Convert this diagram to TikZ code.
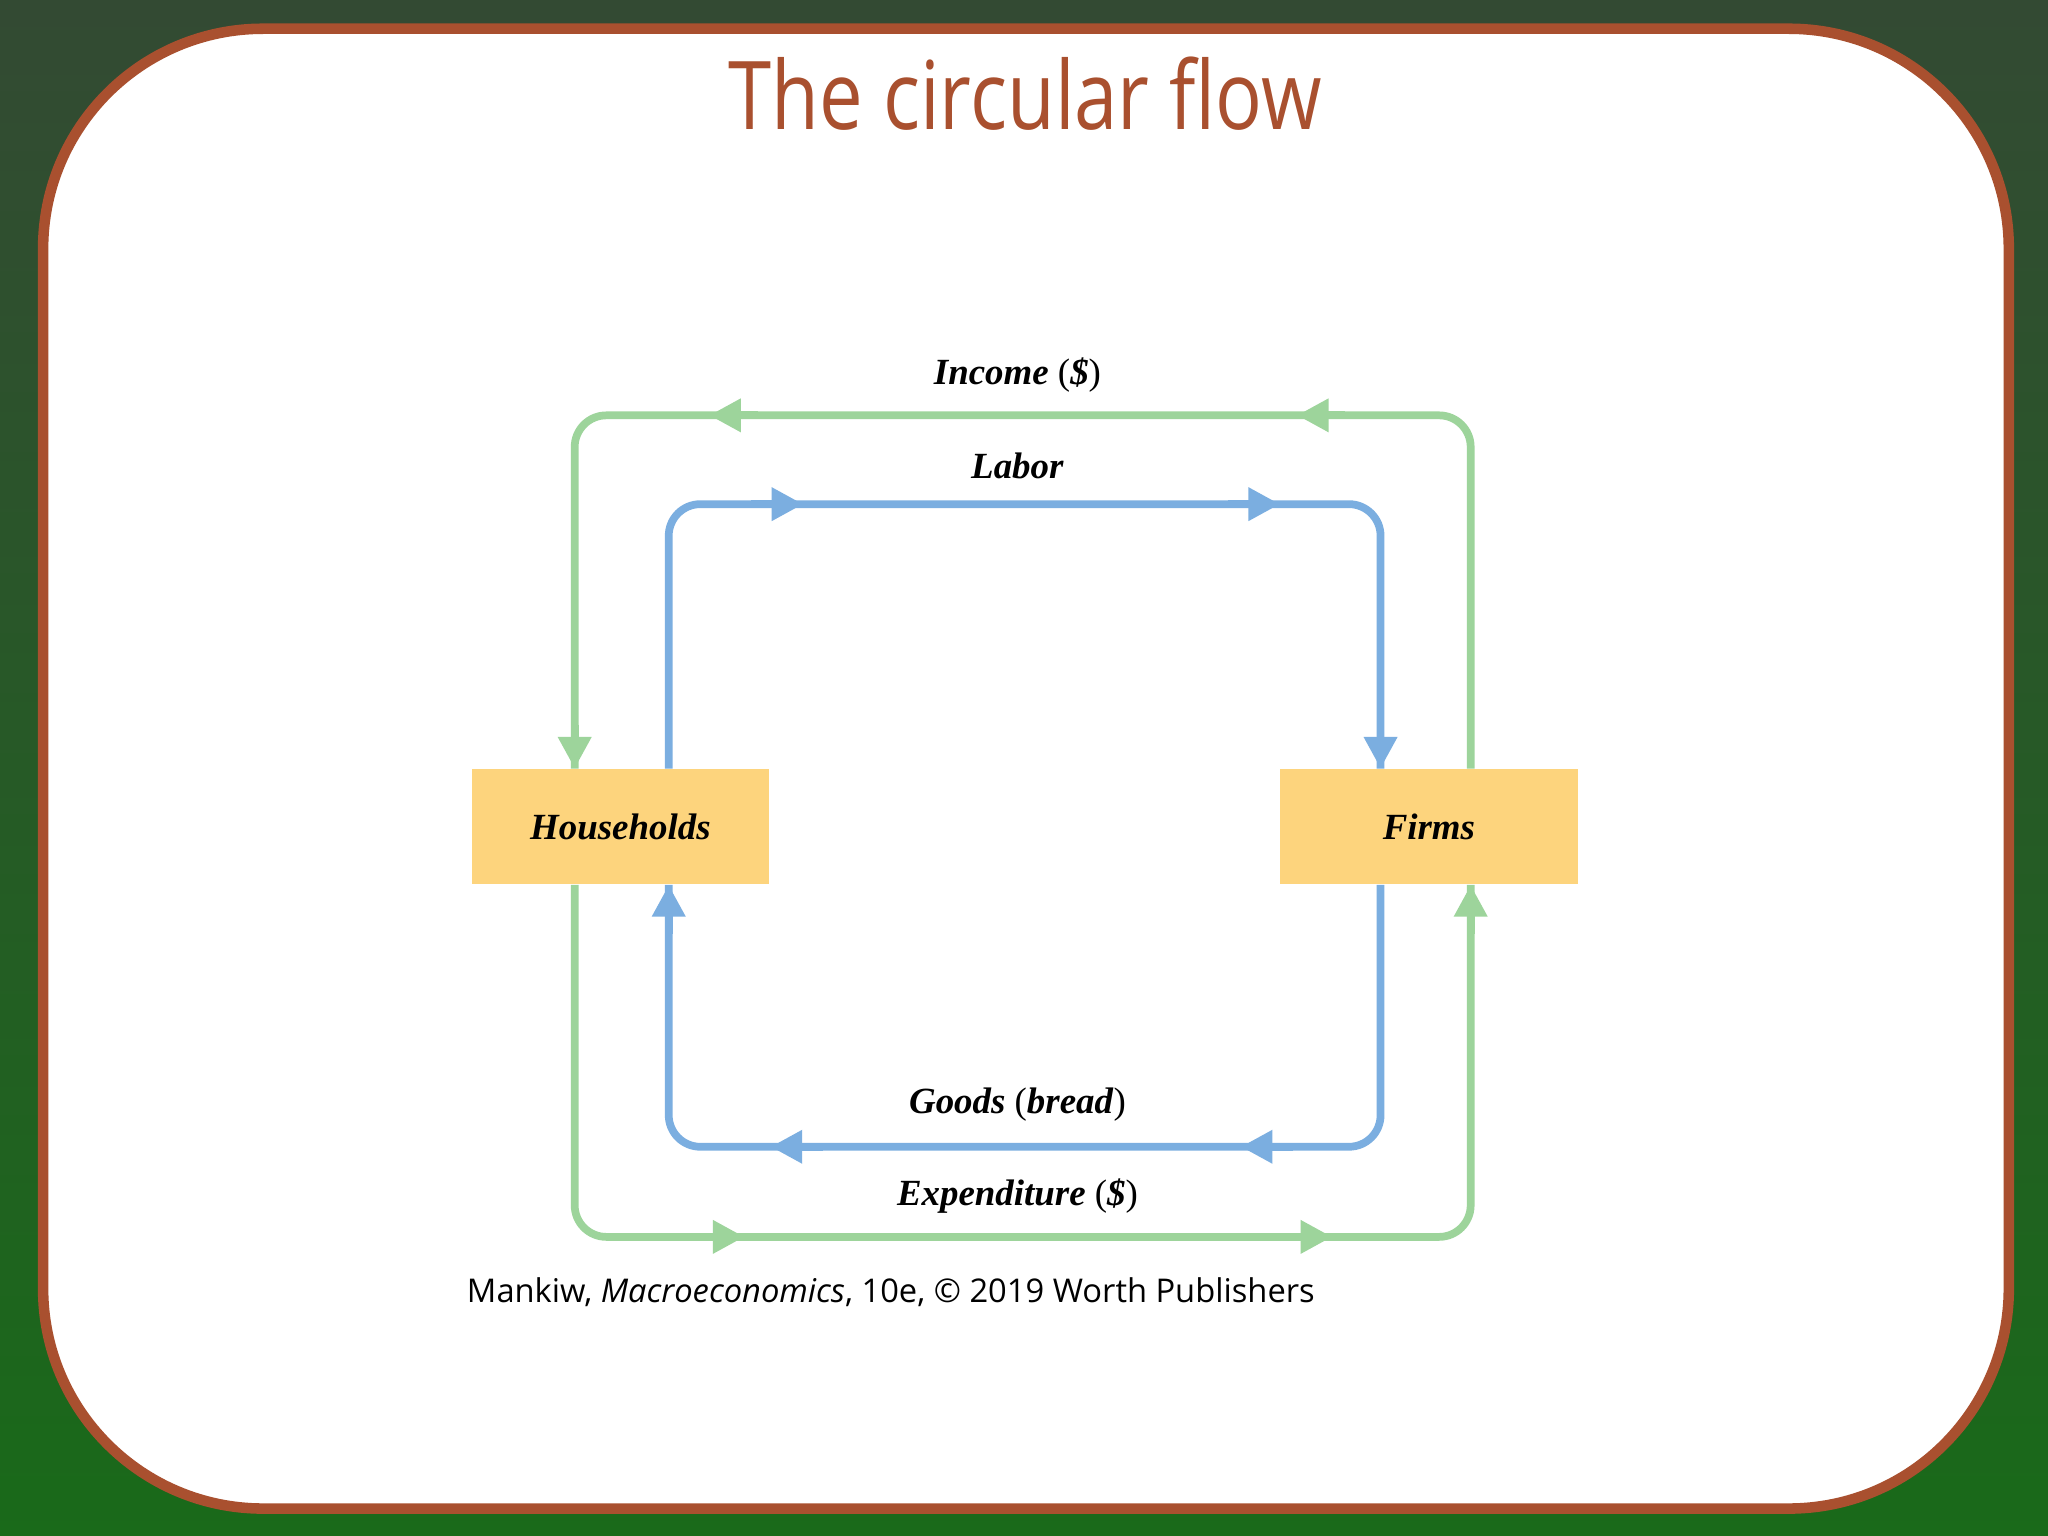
\documentclass[tikz,border=0pt]{standalone}
\usepackage{fontspec}
\setmainfont{Liberation Serif}
\newfontfamily\sans{Open Sans}
\usetikzlibrary{arrows.meta}
\definecolor{brn}{HTML}{A9502F}
\definecolor{gcol}{HTML}{9DD49B}
\definecolor{bcol}{HTML}{7BAEE0}
\definecolor{ycol}{HTML}{FDD47D}
\begin{document}
\begin{tikzpicture}[x=0.01306cm,y=-0.01306cm,
 gl/.style={draw=gcol,line width=2.2pt,rounded corners=9pt},
 bl/.style={draw=bcol,line width=2.2pt,rounded corners=9pt},
 ga/.style={draw=gcol,line width=2.2pt,-{Triangle[length=9pt,width=9pt]}},
 ba/.style={draw=bcol,line width=2.2pt,-{Triangle[length=9pt,width=9pt]}},
 box/.style={fill=ycol,minimum width=228*0.01306cm,minimum height=88*0.01306cm,inner sep=0pt,font=\bfseries\itshape\fontsize{10.5}{12}\selectfont},
 lab/.style={font=\fontsize{10.5}{12}\selectfont}]
\useasboundingbox (0,0) rectangle (1568,1176);
\shade[top color=black!85!green!60!gray, bottom color=green!35!black!90] (0,0) rectangle (1568,1176);
\draw[brn,line width=3pt,fill=white,rounded corners=2.2cm] (33,22) rectangle (1538,1155);
\node[text=brn,font=\sans\fontsize{27}{30}\selectfont,xscale=0.82] (title) at (785,72) {The circular flow};
\node[box] (hh) at (475,633) {Households};
\node[box] (fi) at (1094,633) {Firms};
\coordinate (gx1) at (440,0); \coordinate (gx2) at (1126,0);
\coordinate (bx1) at (512,0); \coordinate (bx2) at (1057,0);
% green loops
\draw[gl] (fi.north -| gx2) -- (1126,318) -- (440,318) -- (hh.north -| gx1);
\draw[gl] (hh.south -| gx1) -- (440,947) -- (1126,947) -- (fi.south -| gx2);
% blue loops
\draw[bl] (hh.north -| bx1) -- (512,386) -- (1057,386) -- (fi.north -| bx2);
\draw[bl] (fi.south -| bx2) -- (1057,878) -- (512,878) -- (hh.south -| bx1);
% arrowheads
\draw[ga] (580,318) -- (543,318);
\draw[ga] (1030,318) -- (993,318);
\draw[ga] (440,555) -- (hh.north -| gx1);
\draw[ga] (530,947) -- (570,947);
\draw[ga] (980,947) -- (1020,947);
\draw[ga] (1126,715) -- (fi.south -| gx2);
\draw[ba] (575,386) -- (615,386);
\draw[ba] (940,386) -- (980,386);
\draw[ba] (1057,555) -- (fi.north -| bx2);
\draw[ba] (630,878) -- (590,878);
\draw[ba] (990,878) -- (950,878);
\draw[ba] (512,715) -- (hh.south -| bx1);
% labels
\node[lab] (inc) at (779,287) {\textbf{\textit{Income}} (\textbf{\textit{\$}})};
\node[lab] (lab) at (779,357) {\textbf{\textit{Labor}}};
\node[lab] (goo) at (779,846) {\textbf{\textit{Goods}} (\textbf{\textit{bread}})};
\node[lab] (exp) at (779,916) {\textbf{\textit{Expenditure}} (\textbf{\textit{\$}})};
\node[anchor=west,inner sep=0pt,font=\sans\fontsize{9.3}{11}\selectfont] (cap) at (357,989) {Mankiw, \textit{Macroeconomics}, 10e, \textcopyright\ 2019 Worth Publishers};
\end{tikzpicture}
\end{document}
